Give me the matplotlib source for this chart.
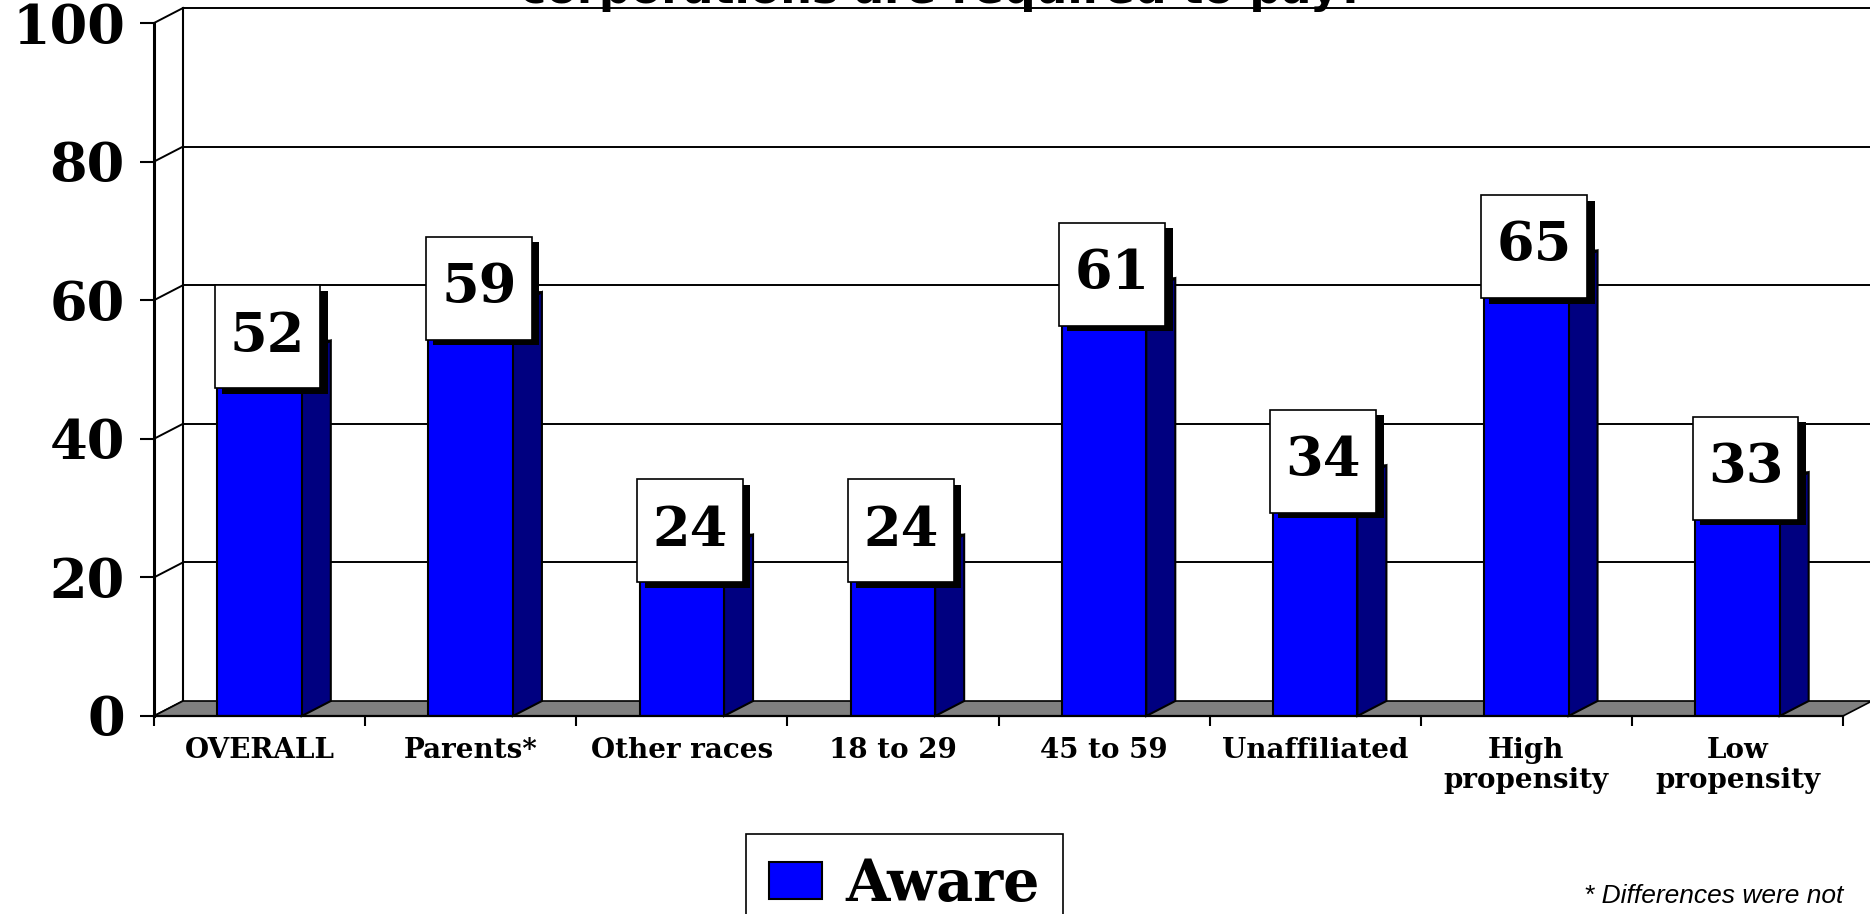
#!/usr/bin/python3
import matplotlib
matplotlib.use("Agg")
import matplotlib.pyplot as plt
import matplotlib.patheffects as pe
from matplotlib.patches import Polygon
from matplotlib.path import Path

categories = ["OVERALL", "Parents*", "Other races", "18 to 29", "45 to 59",
              "Unaffiliated", "High\npropensity", "Low\npropensity"]
aware = [52, 59, 24, 24, 61, 34, 65, 33]
yticks = [0, 20, 40, 60, 80, 100]
series_name = "Aware"
title = "corporations are required to pay?"
footnote = "* Differences were not"

FRONT = "#0000ff"
SIDE = "#000080"
FLOOR = "#808080"
SERIF = "DejaVu Serif"


def label_box(x0, y0, width, height, mutation_size):
    # square box, more padding top/bottom than left/right
    px = 0.28 * mutation_size
    py = 0.47 * mutation_size
    a, b = x0 - px, y0 - py
    c, d = x0 + width + px, y0 + height + py
    return Path([(a, b), (c, b), (c, d), (a, d), (a, b)], closed=True)


W, H = 1870, 914
fig = plt.figure(figsize=(W / 100, H / 100), dpi=100)
ax = fig.add_axes([154 / W, (H - 716) / H, 1689 / W, 693 / H])
ax.set_xlim(-0.5, len(categories) - 0.5)
ax.set_ylim(0, 100)

# fake 3d depth (in data units)
dx = 29 / 211.1
dy = 15 / 6.93
bw = 0.40
x0 = -0.5
x1 = len(categories) - 0.5

# floor
floor = Polygon([(x0, 0), (x1, 0), (x1 + dx, dy), (x0 + dx, dy)],
                closed=True, facecolor=FLOOR, edgecolor="black", lw=1.2,
                clip_on=False, zorder=1)
ax.add_patch(floor)

# back wall: gridlines, left edge and diagonals
for v in yticks:
    if v > 0:
        ax.plot([x0 + dx, x1 + 1], [v + dy, v + dy], color="black", lw=1.4,
                clip_on=False, zorder=0.5)
    ax.plot([x0, x0 + dx], [v, v + dy], color="black", lw=1.4,
            clip_on=False, zorder=0.5)
ax.plot([x0 + dx, x0 + dx], [dy, 100 + dy], color="black", lw=1.5,
        clip_on=False, zorder=0.5)

# bars
xs = list(range(len(categories)))
bars = ax.bar(xs, aware, width=bw, color=FRONT, edgecolor="black",
              linewidth=1.5, zorder=4, label=series_name)
for x, v in zip(xs, aware):
    r = x + bw / 2
    l = x - bw / 2
    side = Polygon([(r, 0), (r + dx, dy), (r + dx, v + dy), (r, v)],
                   facecolor=SIDE, edgecolor="black", lw=1.5, zorder=3,
                   clip_on=False)
    top = Polygon([(l, v), (l + dx, v + dy), (r + dx, v + dy), (r, v)],
                  facecolor=FRONT, edgecolor="black", lw=1.5, zorder=3,
                  clip_on=False)
    ax.add_patch(side)
    ax.add_patch(top)
    t = ax.text(x + 0.038, v + 2.75, str(v), ha="center", va="center",
                fontsize=39, fontweight="bold", family=SERIF, zorder=6,
                bbox=dict(boxstyle=label_box, facecolor="white",
                          edgecolor="black", lw=1.2))
    t.get_bbox_patch().set_path_effects([
        pe.SimplePatchShadow(offset=(5.5, -4), shadow_rgbFace="black",
                             alpha=1.0),
        pe.Normal()])

# axes look
for s in ["top", "right"]:
    ax.spines[s].set_visible(False)
ax.spines["left"].set_linewidth(2.2)
ax.spines["bottom"].set_linewidth(1.6)
ax.spines["left"].set_zorder(5)
ax.spines["bottom"].set_zorder(5)

ax.set_yticks(yticks)
ax.set_yticklabels([str(v) for v in yticks], fontsize=39, fontweight="bold",
                   family=SERIF)
ax.tick_params(axis="y", length=10, width=1.5, pad=11)

ax.set_xticks(xs)
ax.set_xticklabels(categories, fontsize=20, fontweight="bold", family=SERIF,
                   linespacing=1.15)
ax.set_xticks([i - 0.5 for i in range(len(categories) + 1)], minor=True)
ax.tick_params(axis="x", which="major", length=0, pad=15)
ax.tick_params(axis="x", which="minor", length=7, width=1.5)

# title (cut off at the top of the slide, as in the source)
fig.text(942 / W, 1 - 3 / H, title, ha="center", va="baseline",
         fontsize=32, fontweight="bold", family="DejaVu Sans")

# legend
leg = ax.legend(handles=[bars], labels=[series_name], loc="upper left",
                bbox_to_anchor=(746 / W, 1 - 834 / H),
                bbox_transform=fig.transFigure, borderaxespad=0,
                prop=dict(family=SERIF, weight="bold", size=41),
                frameon=True, fancybox=False, edgecolor="black",
                framealpha=1, handlelength=0.93, handleheight=0.63,
                borderpad=0.40, handletextpad=0.42)
leg.get_frame().set_linewidth(1.2)

fig.text(1843 / W, 1 - 903 / H, footnote, ha="right", va="baseline",
         fontsize=19, style="italic", family="Liberation Sans")

fig.savefig("out.png", dpi=100)
